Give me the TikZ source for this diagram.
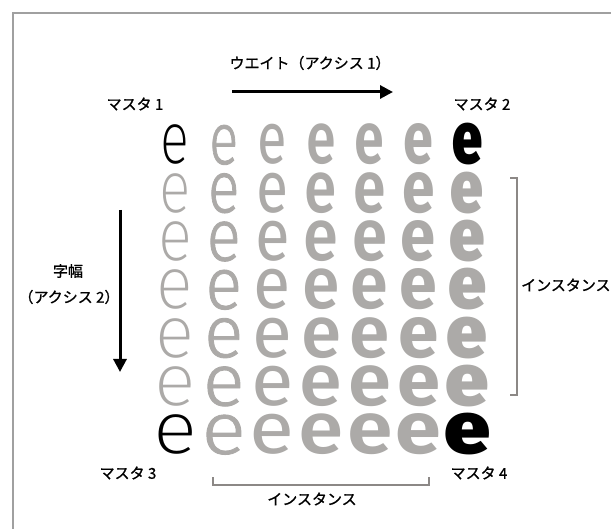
\documentclass[tikz,border=0pt]{standalone}
\usepackage{fontspec}
\usetikzlibrary{arrows.meta}
\newfontfamily\jp[FakeBold=1.0]{Noto Sans CJK JP}
\newfontfamily\fwA{Fira Sans ExtraLight}
\newfontfamily\fwB[FakeBold=1.2]{Fira Sans Light}
\newfontfamily\fwC{Fira Sans}
\newfontfamily\fwD{Fira Sans Medium}
\newfontfamily\fwE{Fira Sans SemiBold}
\newfontfamily\fwF{Fira Sans Bold}
\newfontfamily\fwG{Fira Sans Black}
\definecolor{egray}{RGB}{172,170,168}
\definecolor{framegray}{RGB}{160,160,160}
\definecolor{brgray}{RGB}{140,136,134}
\tikzset{
  lbl/.style={font=\jp\fontsize{15}{18}\selectfont, inner sep=0pt, text=black},
  glyph/.style={inner sep=0pt, anchor=base},
  axisarrow/.style={line width=3pt, -{Triangle[length=13pt,width=13pt]}},
  bracket/.style={draw=brgray, line width=1.4pt},
  frameline/.style={draw=framegray, line width=1.4pt}
}
\begin{document}
\begin{tikzpicture}[x=1pt,y=-1pt]
\useasboundingbox (0,0) rectangle (611,529);
\fill[white] (0,0) rectangle (611,529);
% frame
\coordinate (fa) at (13,529);
\coordinate (fb) at (13,13);
\coordinate (fc) at (611,13);
\draw[frameline] (fa) -- (fb) -- (fc);
% grid of e
\foreach \r in {0,...,6} {
  \foreach \c/\f in {0/\fwA,1/\fwB,2/\fwC,3/\fwD,4/\fwE,5/\fwF,6/\fwG} {
    \pgfmathsetmacro\ex{175+48.7*\c}
    \pgfmathsetmacro\ey{164+48.3*\r}
    \pgfmathsetmacro\xs{0.74+0.065*\r}
    \pgfmathtruncatemacro\isblack{((\r==0)||(\r==6)) && ((\c==0)||(\c==6))}
    \ifnum\isblack=1 \def\ecol{black}\else\def\ecol{egray}\fi
    \node[glyph, text=\ecol] (e\r\c) at (\ex,\ey) {\scalebox{\xs}[1]{\f\fontsize{73}{73}\selectfont e}};
  }
}
% labels
\node[lbl] (title) at (310,63) {ウエイト（アクシス 1）};
\coordinate (wa) at (232,92);
\coordinate (wb) at (393,92);
\draw[axisarrow] (wa) -- (wb);
\node[lbl] (m1) at (135,104) {マスタ 1};
\node[lbl] (m2) at (482,104) {マスタ 2};
\node[lbl] (m3) at (128,473) {マスタ 3};
\node[lbl] (m4) at (479,473) {マスタ 4};
\coordinate (va) at (120,210);
\coordinate (vb) at (120,372);
\draw[axisarrow] (va) -- (vb);
\node[lbl] (w1) at (68,271) {字幅};
\node[lbl] (w2) at (69,297) {（アクシス 2）};
% right bracket
\coordinate (ra) at (510,178);
\coordinate (rb) at (517,178);
\coordinate (rc) at (517,395);
\coordinate (rd) at (510,395);
\draw[bracket] (ra) -- (rb) -- (rc) -- (rd);
\node[lbl, anchor=west] (ir) at (521,285) {インスタンス};
% bottom bracket
\coordinate (ba) at (213,477);
\coordinate (bb) at (213,485);
\coordinate (bc) at (429,485);
\coordinate (bd) at (429,477);
\draw[bracket] (ba) -- (bb) -- (bc) -- (bd);
\node[lbl] (ib) at (312,499) {インスタンス};
\end{tikzpicture}
\end{document}
